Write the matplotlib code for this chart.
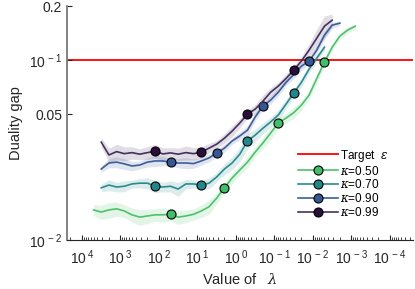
import numpy as np
import matplotlib
matplotlib.use("Agg")
import matplotlib.pyplot as plt
from matplotlib.ticker import LogLocator, NullLocator, NullFormatter

plt.rcParams['font.family'] = ['Liberation Sans', 'DejaVu Sans']
plt.rcParams['mathtext.fontset'] = 'custom'
plt.rcParams['mathtext.rm'] = 'Liberation Sans'
plt.rcParams['mathtext.it'] = 'DejaVu Serif:italic'

# log10 of lambda for each sample (grid of 0.2 decade)
lam_exp_099 = np.arange(3.5, -2.51, -0.2)
lam_exp_090 = np.arange(3.5, -2.71, -0.2)
lam_exp_070 = np.arange(3.5, -2.31, -0.2)
lam_exp_050 = np.arange(3.7, -3.11, -0.2)

gap_099 = [0.0350, 0.0297, 0.0310, 0.0302, 0.0306, 0.0300, 0.0306, 0.0312, 0.0301,
           0.0305, 0.0300, 0.0306, 0.0302, 0.0308, 0.0324, 0.0341, 0.0368, 0.0403,
           0.0447, 0.0501, 0.0534, 0.0591, 0.0663, 0.0717, 0.0790, 0.0880, 0.0987,
           0.1136, 0.1325, 0.1545, 0.1668]
gap_090 = [0.0248, 0.0268, 0.0271, 0.0265, 0.0258, 0.0261, 0.0271, 0.0275, 0.0275,
           0.0271, 0.0268, 0.0268, 0.0266, 0.0275, 0.0286, 0.0304, 0.0324, 0.0355,
           0.0379, 0.0408, 0.0483, 0.0555, 0.0599, 0.0663, 0.0752, 0.0831, 0.0925,
           0.0987, 0.1136, 0.1377, 0.1565, 0.1606]
gap_070 = [0.0195, 0.0202, 0.0197, 0.0199, 0.0205, 0.0207, 0.0207, 0.0199, 0.0197,
           0.0199, 0.0192, 0.0205, 0.0205, 0.0202, 0.0207, 0.0224, 0.0248, 0.0268,
           0.0300, 0.0355, 0.0383, 0.0418, 0.0453, 0.0495, 0.0569, 0.0655, 0.0752,
           0.0892, 0.1026, 0.1180]
gap_050 = [0.0147, 0.0143, 0.0147, 0.0149, 0.0145, 0.0138, 0.0134, 0.0136, 0.0138,
           0.0138, 0.0139, 0.0134, 0.0136, 0.0139, 0.0145, 0.0153, 0.0171, 0.0195,
           0.0221, 0.0245, 0.0271, 0.0308, 0.0346, 0.0393, 0.0447, 0.0476, 0.0510,
           0.0562, 0.0639, 0.0790, 0.0975, 0.1180, 0.1360, 0.1468, 0.1545]

# relative half-width of the shaded band
spread_099 = [0.06, 0.09, 0.10, 0.09, 0.08, 0.07, 0.08, 0.09, 0.08, 0.07, 0.08, 0.09,
              0.08, 0.07, 0.06, 0.05, 0.06, 0.07, 0.06, 0.05, 0.06, 0.08, 0.06, 0.05,
              0.06, 0.05, 0.06, 0.08, 0.12, 0.14, 0.08]
spread_090 = [0.04, 0.06, 0.07, 0.07, 0.06, 0.05, 0.06, 0.07, 0.06, 0.05, 0.06, 0.07,
              0.06, 0.05, 0.05, 0.05, 0.05, 0.04, 0.05, 0.06, 0.05, 0.04, 0.05, 0.05,
              0.04, 0.05, 0.05, 0.04, 0.05, 0.05, 0.04, 0.03]
spread_070 = [0.05, 0.07, 0.06, 0.07, 0.05, 0.06, 0.07, 0.08, 0.06, 0.07, 0.09, 0.06,
              0.05, 0.06, 0.07, 0.06, 0.07, 0.08, 0.09, 0.10, 0.08, 0.07, 0.06, 0.07,
              0.06, 0.05, 0.06, 0.05, 0.05, 0.04]
spread_050 = [0.07, 0.09, 0.10, 0.09, 0.08, 0.09, 0.10, 0.09, 0.08, 0.09, 0.08, 0.09,
              0.08, 0.07, 0.08, 0.09, 0.07, 0.06, 0.07, 0.06, 0.07, 0.06, 0.07, 0.08,
              0.07, 0.06, 0.07, 0.06, 0.05, 0.06, 0.05, 0.04, 0.04, 0.04, 0.03]

mark_099 = [7, 13, 19, 25]
mark_090 = [9, 15, 21, 27]
mark_070 = [7, 13, 19, 25]
mark_050 = [10, 17, 24, 30]

target = 0.1
series = [
    ('0.50', lam_exp_050, gap_050, spread_050, mark_050, '#4cc26b', '#3fbf68'),
    ('0.70', lam_exp_070, gap_070, spread_070, mark_070, '#2a8b8f', '#22878c'),
    ('0.90', lam_exp_090, gap_090, spread_090, mark_090, '#3d5d9a', '#365796'),
    ('0.99', lam_exp_099, gap_099, spread_099, mark_099, '#45305f', '#2a0f3d'),
]

fig = plt.figure(figsize=(4.15, 2.89), dpi=100)
ax = fig.add_axes([0.1614, 0.1696, 0.8337, 0.8096])

ax.axhline(target, color='#ff0000', lw=1.3, label=r'Target  $\epsilon$', zorder=1)

for kappa, le, g, s, mk, lc, mc in series:
    lam = 10.0 ** le
    g = np.array(g)
    s = np.array(s)
    ax.fill_between(lam, g * (1 - s), g * (1 + s), color=lc, alpha=0.16, lw=0, zorder=2)
    ax.plot(lam, g, color=lc, lw=1.2, marker='o', markevery=mk, markersize=6.5,
            markerfacecolor=mc, markeredgecolor='black', markeredgewidth=0.8,
            label=r'$\kappa$=' + kappa, zorder=3)

ax.set_xscale('log')
ax.set_yscale('log')
ax.set_xlim(10 ** 4.39, 10 ** -4.6)
ax.set_ylim(0.01, 0.2)

xt = [10.0 ** k for k in range(4, -5, -1)]
ax.set_xticks(xt)
ax.set_xticklabels([r'10$^{\,%d}$' % k for k in range(4, -5, -1)])
ax.xaxis.set_minor_locator(LogLocator(base=10, subs=np.arange(2, 10), numticks=30))
ax.xaxis.set_minor_formatter(NullFormatter())

ax.set_yticks([0.01, 0.05, 0.1, 0.2])
ax.set_yticklabels([r'10$^{\,-2}$', '0.05', r'10$^{\,-1}$', '0.2'])
ax.yaxis.set_minor_locator(NullLocator())

ax.tick_params(axis='both', which='major', direction='in', length=3.5, labelsize=10,
               colors='#262626', width=0.8)
ax.tick_params(axis='x', which='minor', direction='in', length=2, width=0.6, colors='#262626')
ax.tick_params(axis='x', which='major', pad=6)

for side in ['top', 'right']:
    ax.spines[side].set_visible(False)
ax.spines['left'].set_color('#7a7a7a')
ax.spines['left'].set_linewidth(1.3)
ax.spines['bottom'].set_color('#262626')
ax.spines['bottom'].set_linewidth(0.8)

ax.set_ylabel('Duality gap', fontsize=10.5, color='#262626', labelpad=4)
ax.set_xlabel(r'Value of   $\lambda$', fontsize=10.5, color='#262626', labelpad=4)

ax.legend(loc='upper left', bbox_to_anchor=(0.668, 0.395), frameon=False, fontsize=8.5,
          handlelength=3.4, handletextpad=0.15, labelspacing=0.08, borderaxespad=0,
          borderpad=0)

fig.savefig('out.png', dpi=100)
